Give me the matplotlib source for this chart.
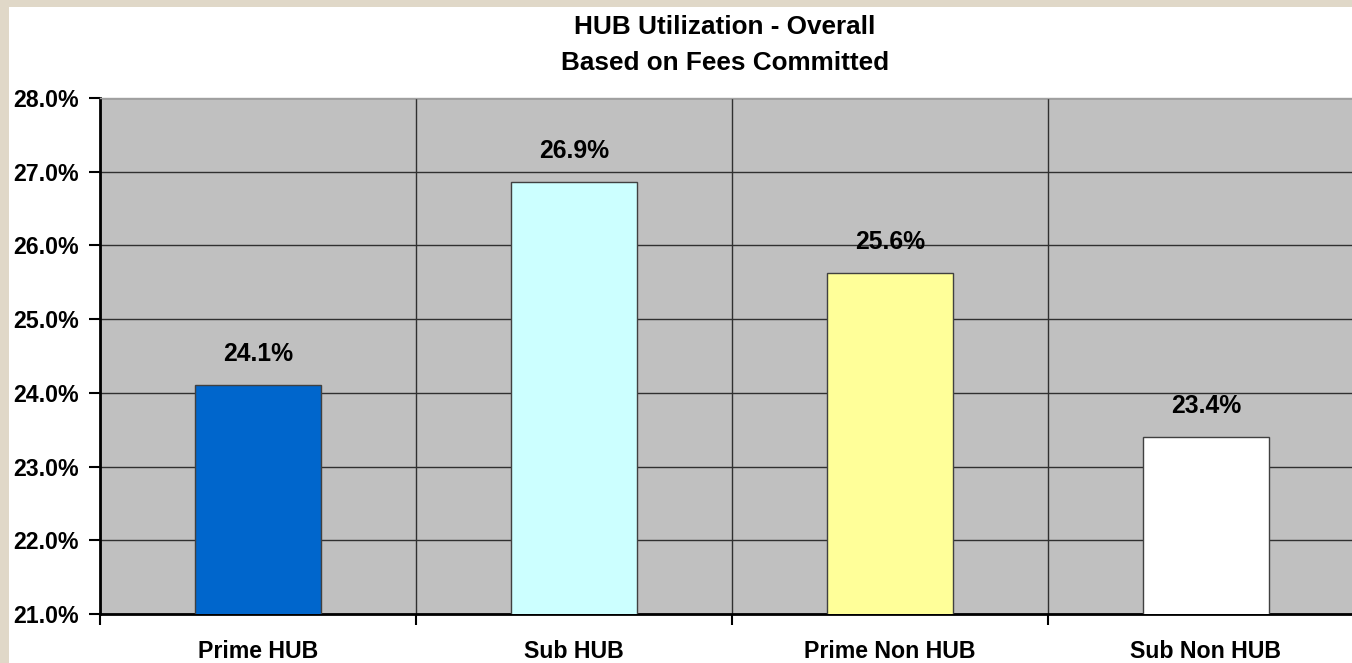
import matplotlib.pyplot as plt
from matplotlib.patches import Rectangle
from matplotlib.ticker import FuncFormatter, MultipleLocator

categories = ['Prime HUB', 'Sub HUB', 'Prime Non HUB', 'Sub Non HUB']
utilization = [24.1, 26.86, 25.62, 23.4]
bar_colors = ['#0066CC', '#CCFFFF', '#FFFF99', '#FFFFFF']
title_lines = ['HUB Utilization - Overall', 'Based on Fees Committed']

plt.rcParams['font.family'] = ['Liberation Sans', 'DejaVu Sans']
plt.rcParams['font.weight'] = 'bold'

fig = plt.figure(figsize=(13.52, 6.63), dpi=100, facecolor='#E0D8C8')
# white chart panel inside the beige frame
fig.patches.append(Rectangle((9 / 1352, 0), 1, 1 - 7 / 663, transform=fig.transFigure,
                             facecolor='white', edgecolor='none', zorder=-10))

ax = fig.add_axes([100 / 1352, 49 / 663, 1264 / 1352, 516 / 663])
ax.set_facecolor('#C0C0C0')

x = range(len(categories))
ax.bar(x, utilization, width=0.4, color=bar_colors, edgecolor='#404040',
       linewidth=1.0, zorder=3)

for xi, v in zip(x, utilization):
    ax.annotate(f'{v:.1f}%', (xi, v), xytext=(0, 14), textcoords='offset points',
                ha='center', va='bottom', fontsize=17.8, fontweight='bold', zorder=4)

ax.set_xlim(-0.5, len(categories) - 0.5)
ax.set_ylim(21, 28)
ax.yaxis.set_major_locator(MultipleLocator(1))
ax.yaxis.set_major_formatter(FuncFormatter(lambda v, p: f'{v:.1f}%'))

ax.set_xticks(list(x))
ax.set_xticklabels(categories)
ax.set_xticks([i - 0.5 for i in range(len(categories))], minor=True)
ax.tick_params(axis='x', which='major', length=0, pad=19, labelsize=16.7)
ax.tick_params(axis='x', which='minor', length=8, width=1.5, color='black')
ax.tick_params(axis='y', length=8, width=1.5, pad=7, labelsize=16.7)

ax.grid(axis='y', which='major', color='#303030', linewidth=1.0, zorder=1)
ax.grid(axis='x', which='minor', color='#303030', linewidth=1.0, zorder=1)
ax.set_axisbelow(True)

for s in ['left', 'bottom']:
    ax.spines[s].set_linewidth(2)
    ax.spines[s].set_color('black')
ax.spines['top'].set_color('#A0A0A0')
ax.spines['top'].set_linewidth(1)
ax.spines['right'].set_visible(False)

fig.text(725 / 1352, 1 - 27 / 663, title_lines[0], ha='center', va='center',
         fontsize=18.8, fontweight='bold')
fig.text(725 / 1352, 1 - 63 / 663, title_lines[1], ha='center', va='center',
         fontsize=18.8, fontweight='bold')

fig.savefig('out.png', dpi=100, facecolor=fig.get_facecolor())
